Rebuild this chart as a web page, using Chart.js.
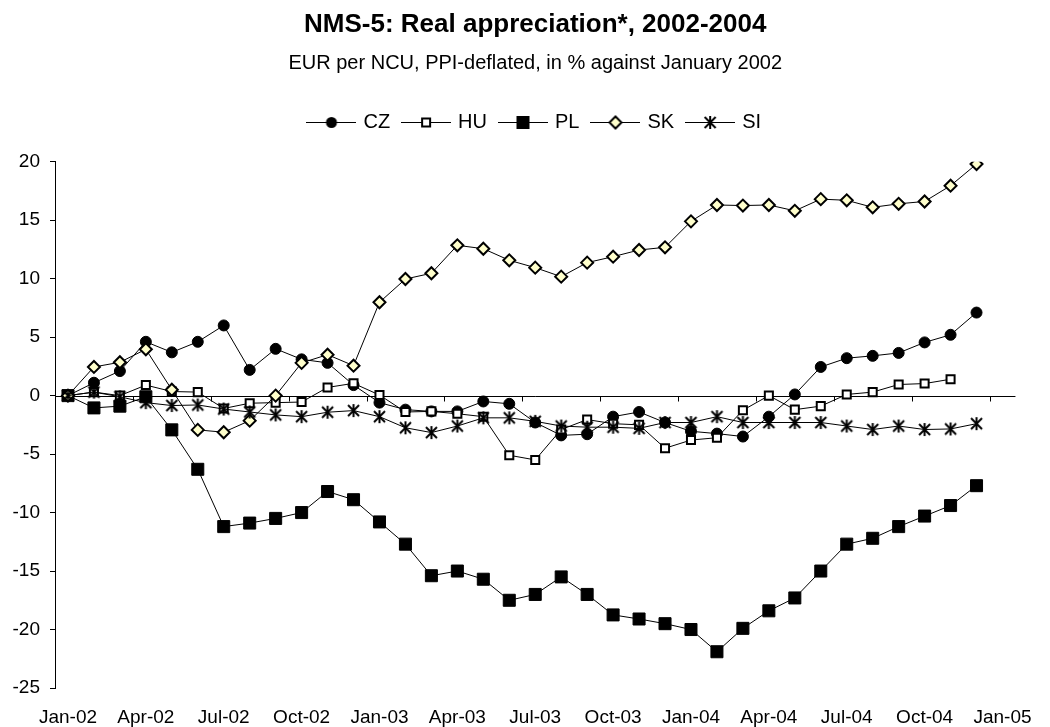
<!DOCTYPE html>
<html>
<head>
<meta charset="utf-8">
<script src="https://cdn.jsdelivr.net/npm/chart.js@4/dist/chart.umd.min.js"></script>
<style>
html,body{margin:0;padding:0;background:#fff;}
#wrap{width:1050px;height:727px;position:relative;}
</style>
</head>
<body>
<div id="wrap"><canvas id="c"></canvas></div>
<script>
// ---- data ----
const months = ['Jan-02','Feb-02','Mar-02','Apr-02','May-02','Jun-02','Jul-02','Aug-02','Sep-02','Oct-02','Nov-02','Dec-02',
  'Jan-03','Feb-03','Mar-03','Apr-03','May-03','Jun-03','Jul-03','Aug-03','Sep-03','Oct-03','Nov-03','Dec-03',
  'Jan-04','Feb-04','Mar-04','Apr-04','May-04','Jun-04','Jul-04','Aug-04','Sep-04','Oct-04','Nov-04','Dec-04',
  'Jan-05'];
const tickLabels = ['Jan-02','Apr-02','Jul-02','Oct-02','Jan-03','Apr-03','Jul-03','Oct-03','Jan-04','Apr-04','Jul-04','Oct-04','Jan-05'];
const yTicks = [20, 15, 10, 5, 0, -5, -10, -15, -20, -25];

const cz = [0,1.1,2.1,4.6,3.7,4.6,6.0,2.2,4.0,3.1,2.8,0.9,-0.6,-1.2,-1.35,-1.35,-0.5,-0.7,-2.3,-3.4,-3.3,-1.8,-1.4,-2.3,-3.05,-3.25,-3.5,-1.8,0.1,2.45,3.2,3.4,3.65,4.55,5.2,7.1];
const hu = [0,0.3,0.0,0.9,0.35,0.3,-1.1,-0.65,-0.6,-0.55,0.7,1.05,0.05,-1.4,-1.35,-1.55,-1.8,-5.1,-5.5,-2.9,-2.05,-2.4,-2.5,-4.5,-3.8,-3.6,-1.25,0.0,-1.2,-0.9,0.1,0.3,0.95,1.03,1.4];
const pl = [0,-1.05,-0.9,-0.1,-2.93,-6.3,-11.2,-10.9,-10.5,-10.0,-8.2,-8.9,-10.8,-12.7,-15.4,-15.0,-15.7,-17.5,-17.0,-15.5,-17.0,-18.75,-19.1,-19.5,-20.0,-21.9,-19.9,-18.4,-17.3,-15.0,-12.7,-12.2,-11.2,-10.3,-9.4,-7.7];
const sk = [0,2.45,2.85,3.96,0.5,-2.93,-3.13,-2.14,0.0,2.8,3.5,2.56,7.98,9.97,10.46,12.85,12.56,11.57,10.94,10.17,11.37,11.88,12.45,12.68,14.9,16.3,16.25,16.3,15.8,16.8,16.7,16.1,16.4,16.6,17.95,19.8];
const si = [0,0.3,-0.1,-0.6,-0.85,-0.8,-1.15,-1.4,-1.65,-1.8,-1.42,-1.28,-1.8,-2.75,-3.16,-2.6,-1.9,-1.9,-2.2,-2.6,-2.7,-2.7,-2.8,-2.3,-2.3,-1.8,-2.3,-2.3,-2.3,-2.3,-2.6,-2.9,-2.6,-2.9,-2.85,-2.4];
const seriesNames = ['CZ','HU','PL','SK','SI'];

// ---- marker drawing helpers ----
const SK_FILL = '#FFFFCC';
function drawMarker(ctx, type, cx, cy) {
  ctx.save();
  ctx.strokeStyle = '#000';
  ctx.fillStyle = '#000';
  if (type === 'circle') {
    ctx.beginPath(); ctx.arc(cx, cy, 5.5, 0, Math.PI * 2); ctx.fill();
  } else if (type === 'open') {
    ctx.lineWidth = 2; ctx.fillStyle = '#fff';
    ctx.fillRect(cx - 4, cy - 4, 8, 8); ctx.strokeRect(cx - 4, cy - 4, 8, 8);
  } else if (type === 'filled') {
    ctx.fillRect(cx - 6.5, cy - 6.5, 13, 13);
  } else if (type === 'diamond') {
    ctx.lineWidth = 2; ctx.fillStyle = SK_FILL;
    ctx.beginPath(); ctx.moveTo(cx - 6, cy); ctx.lineTo(cx, cy - 6); ctx.lineTo(cx + 6, cy); ctx.lineTo(cx, cy + 6); ctx.closePath();
    ctx.fill(); ctx.stroke();
  } else if (type === 'star') {
    ctx.lineWidth = 2;
    ctx.beginPath();
    ctx.moveTo(cx, cy - 6.5); ctx.lineTo(cx, cy + 6.5);
    ctx.moveTo(cx - 5.5, cy - 5.5); ctx.lineTo(cx + 5.5, cy + 5.5);
    ctx.moveTo(cx + 5.5, cy - 5.5); ctx.lineTo(cx - 5.5, cy + 5.5);
    ctx.stroke();
  }
  ctx.restore();
}
function starImage() {
  const c = document.createElement('canvas');
  c.width = 15; c.height = 15;
  drawMarker(c.getContext('2d'), 'star', 7.5, 7.5);
  return c;
}
function legendIcon(type) {
  const c = document.createElement('canvas');
  c.width = 50; c.height = 20;
  const ctx = c.getContext('2d');
  ctx.strokeStyle = '#000'; ctx.lineWidth = 1;
  ctx.beginPath(); ctx.moveTo(0, 10.5); ctx.lineTo(50, 10.5); ctx.stroke();
  drawMarker(ctx, type, 25, 10.5);
  return c;
}
const legendIcons = [legendIcon('circle'), legendIcon('open'), legendIcon('filled'), legendIcon('diamond'), legendIcon('star')];

// ---- zero line with category boundary ticks ----
const zeroLinePlugin = {
  id: 'zeroLine',
  beforeDatasetsDraw(chart) {
    const {ctx, chartArea, scales} = chart;
    const x = scales.x, y = scales.y;
    const y0 = Math.round(y.getPixelForValue(0)) + 0.5;
    const half = (x.getPixelForValue(1) - x.getPixelForValue(0)) / 2;
    ctx.save();
    ctx.strokeStyle = '#000'; ctx.lineWidth = 1;
    ctx.beginPath();
    ctx.moveTo(chartArea.left, y0); ctx.lineTo(chartArea.right, y0);
    for (let i = 2; i < months.length - 1; i += 3) {
      const xx = Math.round(x.getPixelForValue(i) + half) + 0.5;
      ctx.moveTo(xx, y0); ctx.lineTo(xx, y0 + 5);
    }
    ctx.stroke();
    ctx.restore();
  }
};

Chart.defaults.font.family = 'Arial, "Liberation Sans", Helvetica, sans-serif';
Chart.defaults.color = '#000';

function lineDs(label, data, extra, order) {
  return Object.assign({
    label, data, order,
    borderColor: '#000', borderWidth: 1, fill: false, tension: 0,
    pointBorderColor: '#000', spanGaps: false
  }, extra);
}

new Chart(document.getElementById('c'), {
  type: 'line',
  data: {
    labels: months,
    datasets: [
      lineDs(seriesNames[0], cz, {pointStyle: 'circle', pointRadius: 5.5, pointBackgroundColor: '#000', pointBorderWidth: 1}, 5),
      lineDs(seriesNames[1], hu, {pointStyle: 'rect', pointRadius: 5.7, pointBackgroundColor: '#fff', pointBorderWidth: 2}, 4),
      lineDs(seriesNames[2], pl, {pointStyle: 'rect', pointRadius: 8.5, pointBackgroundColor: '#000', pointBorderWidth: 1}, 3),
      lineDs(seriesNames[3], sk, {pointStyle: 'rectRot', pointRadius: 6, pointBackgroundColor: SK_FILL, pointBorderWidth: 2}, 2),
      lineDs(seriesNames[4], si, {pointStyle: starImage(), pointRadius: 7}, 1)
    ]
  },
  options: {
    responsive: true,
    maintainAspectRatio: false,
    animation: false,
    events: [],
    layout: {padding: {left: 0, right: 18, top: 0, bottom: 0}},
    plugins: {
      title: {
        display: true, fullSize: false,
        text: 'NMS-5: Real appreciation*, 2002-2004',
        font: {size: 26, weight: 'bold'},
        color: '#000',
        padding: {top: 9, bottom: 11}
      },
      subtitle: {
        display: true, fullSize: false,
        text: 'EUR per NCU, PPI-deflated, in % against January 2002',
        font: {size: 20},
        color: '#000',
        padding: {top: 0, bottom: 22.8}
      },
      legend: {
        display: true, fullSize: false, position: 'top',
        labels: {
          usePointStyle: true,
          pointStyleWidth: 44,
          boxHeight: 20,
          padding: 14,
          color: '#000',
          font: {size: 20},
          sort: (a, b) => a.datasetIndex - b.datasetIndex,
          generateLabels: (chart) => {
            const items = Chart.defaults.plugins.legend.labels.generateLabels(chart);
            items.forEach(it => { it.pointStyle = legendIcons[it.datasetIndex]; it.lineWidth = 0; });
            return items;
          }
        }
      },
      tooltip: {enabled: false}
    },
    scales: {
      x: {
        type: 'category',
        position: 'bottom',
        offset: true,
        grid: {display: false, drawTicks: false},
        border: {display: false},
        ticks: {
          autoSkip: false, maxRotation: 0, minRotation: 0,
          padding: 18,
          font: {size: 19},
          color: '#000',
          callback: (v, i) => (i % 3 === 0 ? tickLabels[i / 3] : '')
        },
        afterFit: (s) => { s.height = 39; }
      },
      x2: {
        type: 'category',
        position: 'top',
        display: true,
        grid: {display: false, drawTicks: false},
        border: {display: false},
        ticks: {display: false},
        afterFit: (s) => { s.height = 19.7; }
      },
      y: {
        min: -25, max: 20,
        afterBuildTicks: (s) => { s.ticks = yTicks.map(v => ({value: v})); },
        grid: {display: true, drawOnChartArea: false, drawTicks: true, tickLength: 5, color: '#000', lineWidth: 1},
        border: {display: true, color: '#000', width: 1},
        ticks: {padding: 10, font: {size: 19}, color: '#000'},
        afterFit: (s) => { s.width = 55; }
      }
    }
  },
  plugins: [zeroLinePlugin]
});
</script>
</body>
</html>
